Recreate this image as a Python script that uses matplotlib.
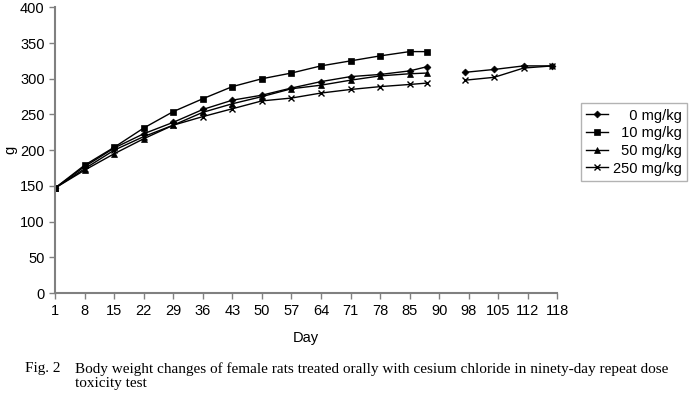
import matplotlib

matplotlib.use("Agg")
import matplotlib.pyplot as plt
import numpy as np

# x-axis tick days (drawn equally spaced, like a category axis)
TICK_DAYS = [1, 8, 15, 22, 29, 36, 43, 50, 57, 64, 71, 78, 85, 90, 98, 105, 112, 118]

# dosing period and recovery period measurement days
DAYS_DOSING = [1, 8, 15, 22, 29, 36, 43, 50, 57, 64, 71, 78, 85, 88]
DAYS_RECOVERY = [97, 104, 111, 117]

# labels right-aligned in the legend with figure spaces
LABELS = ["\u2007\u20070 mg/kg", "\u200710 mg/kg", "\u200750 mg/kg", "250 mg/kg"]
MARKERS = ["D", "s", "^", "x"]

W0 = [147, 177, 203, 223, 239, 257, 270, 277, 287, 296, 303, 306, 311, 317]
W10 = [147, 179, 204, 231, 254, 272, 289, 300, 308, 318, 325, 332, 338, 338]
W50 = [147, 172, 195, 216, 235, 253, 265, 275, 286, 291, 298, 304, 307, 308]
W250 = [147, 174, 200, 219, 235, 247, 258, 269, 273, 280, 285, 289, 292, 294]

W0_REC = [309, 313, 318, 318]
W250_REC = [298, 302, 315, 318]

DOSING = [W0, W10, W50, W250]
RECOVERY = [W0_REC, None, None, W250_REC]

CAPTION_HEAD = "Fig. 2"
CAPTION_BODY = ("Body weight changes of female rats treated orally with cesium chloride in ninety-day repeat dose\n"
                "toxicity test")

plt.rcParams["font.family"] = ["Liberation Sans", "DejaVu Sans"]

tick_pos = np.arange(len(TICK_DAYS), dtype=float)


def fwd(d):
    return np.interp(d, TICK_DAYS, tick_pos)


def inv(p):
    return np.interp(p, tick_pos, TICK_DAYS)


fig = plt.figure(figsize=(6.92, 3.95), dpi=100)
ax = fig.add_axes([0.0795, 0.258, 0.726, 0.7235])
ax.set_xscale("function", functions=(fwd, inv))

handles = []
for label, marker, main, rec in zip(LABELS, MARKERS, DOSING, RECOVERY):
    msize = 4.5 if marker != "D" else 3.5
    style = dict(color="black", lw=1.0, marker=marker, markersize=msize,
                 markeredgewidth=1.0 if marker == "x" else 0.5)
    (h,) = ax.plot(DAYS_DOSING, main, label=label, **style)
    if rec is not None:
        ax.plot(DAYS_RECOVERY, rec, **style)
    handles.append(h)

ax.set_xlim(1, 118)
ax.set_ylim(0, 400)
ax.set_xticks(TICK_DAYS)
ax.set_xticklabels([str(d) for d in TICK_DAYS])
ax.set_yticks(np.arange(0, 401, 50))
ax.minorticks_off()
ax.tick_params(axis="both", labelsize=10.5, color="#808080", length=4, width=1)
ax.tick_params(axis="x", pad=4)
for side in ("top", "right"):
    ax.spines[side].set_visible(False)
for side in ("left", "bottom"):
    ax.spines[side].set_color("#808080")
    ax.spines[side].set_linewidth(1.5)

ax.set_xlabel("Day", fontsize=10.5, labelpad=9)
ax.set_ylabel("g", fontsize=10.5, labelpad=2)

leg = fig.legend(handles=handles, loc="upper left", bbox_to_anchor=(0.840, 0.738),
                 fontsize=10.5, frameon=True, fancybox=False, edgecolor="#a0a0a0",
                 handlelength=1.5, handletextpad=0.3, labelspacing=0.25,
                 borderpad=0.35, borderaxespad=0)
leg.get_frame().set_linewidth(1.0)

fig.text(0.036, 0.083, CAPTION_HEAD, fontsize=11, family="Liberation Serif", va="top")
fig.text(0.108, 0.083, CAPTION_BODY, fontsize=11, family="Liberation Serif", va="top",
         linespacing=1.1)

fig.savefig("out.png", dpi=100)
